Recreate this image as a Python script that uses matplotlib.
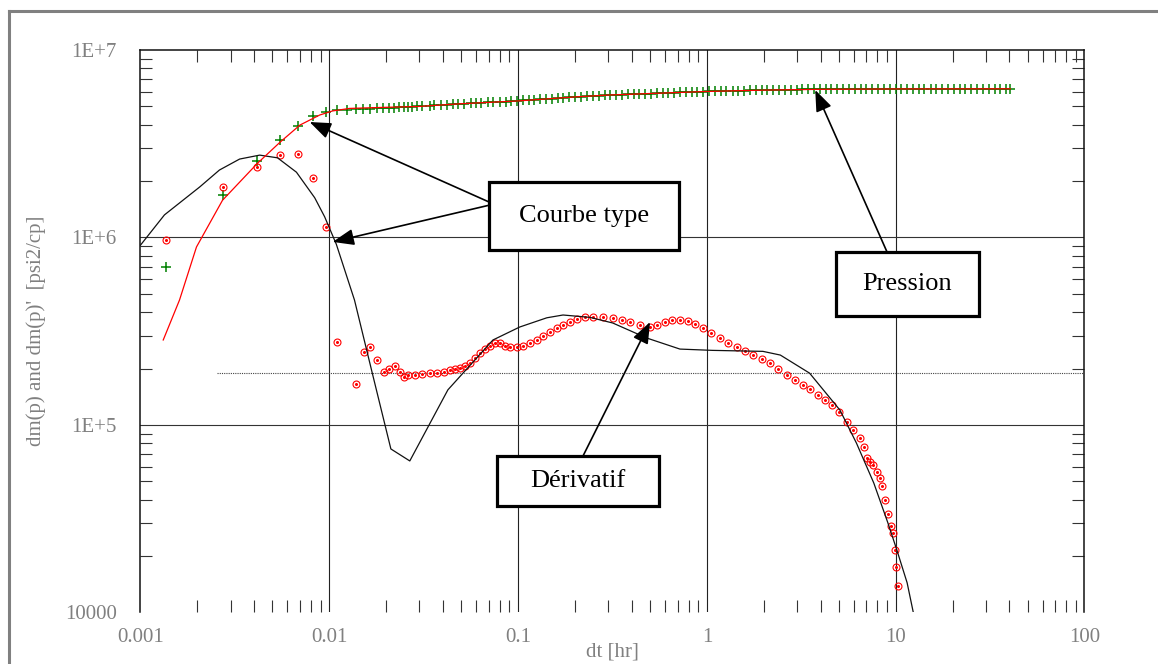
import numpy as np
import matplotlib
matplotlib.use("Agg")
import matplotlib.pyplot as plt
from matplotlib.lines import Line2D
from matplotlib.patches import Rectangle
from matplotlib.ticker import FixedLocator, LogLocator, NullFormatter

plt.rcParams['font.family'] = ['Liberation Serif', 'DejaVu Serif']

# --- measured pressure function dm(p) [psi2/cp] (green +)
t_press = [
    0.00137, 0.00275, 0.00412, 0.0055, 0.00687, 0.00825, 0.00962, 0.011, 0.0124, 0.0138,
    0.0151, 0.0165, 0.0179, 0.0193, 0.0206, 0.022, 0.0234, 0.0248, 0.0261, 0.0275,
    0.029, 0.031, 0.034, 0.036, 0.039, 0.042, 0.045, 0.048, 0.052, 0.056,
    0.060, 0.064, 0.069, 0.074, 0.080, 0.086, 0.092, 0.099, 0.106, 0.114,
    0.122, 0.131, 0.141, 0.151, 0.162, 0.174, 0.187, 0.201, 0.216, 0.232,
    0.249, 0.267, 0.287, 0.308, 0.331, 0.355, 0.381, 0.409, 0.439, 0.471,
    0.506, 0.543, 0.583, 0.626, 0.672, 0.721, 0.774, 0.831, 0.892, 0.958,
    1.03, 1.10, 1.19, 1.27, 1.37, 1.47, 1.58, 1.69, 1.82, 1.95,
    2.09, 2.25, 2.41, 2.59, 2.78, 2.99, 3.21, 3.44, 3.70, 3.97,
    4.26, 4.57, 4.91, 5.27, 5.66, 6.07, 6.52, 7.00, 7.52, 8.07,
    8.66, 9.30, 9.98, 10.7, 11.5, 12.4, 13.3, 14.2, 15.3, 16.4,
    17.6, 18.9, 20.3, 21.8, 23.4, 25.1, 27.0, 28.9, 31.1, 33.4,
    35.8, 38.4, 40.5]
dm_press_m = [
    0.70, 1.69, 2.56, 3.31, 3.94, 4.45, 4.67, 4.78, 4.80, 4.83,
    4.85, 4.87, 4.89, 4.90, 4.92, 4.93, 4.95, 4.96, 4.97, 4.98,
    5.00, 5.02, 5.05, 5.07, 5.09, 5.11, 5.13, 5.15, 5.17, 5.19,
    5.21, 5.23, 5.25, 5.27, 5.29, 5.31, 5.33, 5.35, 5.38, 5.40,
    5.43, 5.46, 5.48, 5.51, 5.54, 5.57, 5.59, 5.62, 5.64, 5.66,
    5.69, 5.71, 5.73, 5.75, 5.77, 5.78, 5.80, 5.81, 5.83, 5.84,
    5.86, 5.87, 5.89, 5.90, 5.92, 5.94, 5.95, 5.97, 5.98, 6.00,
    6.01, 6.03, 6.04, 6.05, 6.06, 6.07, 6.08, 6.09, 6.10, 6.11,
    6.12, 6.13, 6.13, 6.14, 6.15, 6.15, 6.16, 6.16, 6.17, 6.17,
    6.18, 6.18, 6.18, 6.19, 6.19, 6.19, 6.19, 6.20, 6.20, 6.20,
    6.20, 6.20, 6.21, 6.20, 6.21, 6.20, 6.21, 6.21, 6.20, 6.21,
    6.21, 6.20, 6.21, 6.21, 6.20, 6.21, 6.21, 6.20, 6.21, 6.21,
    6.20, 6.21, 6.21]

# --- measured derivative dm(p)' (red circles)
t_deriv = [
    0.00137, 0.00275, 0.00412, 0.0055, 0.00687, 0.00825, 0.00962, 0.0110, 0.0138, 0.0152,
    0.0165, 0.0180, 0.0194, 0.0207, 0.0222, 0.0236, 0.0248, 0.0261, 0.0284, 0.0309,
    0.0340, 0.0371, 0.0405, 0.0435, 0.0462, 0.0491, 0.0522, 0.0555, 0.0590, 0.0627,
    0.0667, 0.0708, 0.0753, 0.080, 0.0851, 0.0905, 0.0986, 0.106, 0.1155, 0.126,
    0.135, 0.1475, 0.1606, 0.173, 0.188, 0.205, 0.226, 0.249, 0.282, 0.318,
    0.355, 0.392, 0.443, 0.500, 0.545, 0.600, 0.653, 0.721, 0.795, 0.865,
    0.954, 1.05, 1.18, 1.30, 1.45, 1.60, 1.76, 1.96, 2.16, 2.39,
    2.66, 2.94, 3.24, 3.52, 3.89, 4.24, 4.61, 5.02, 5.54, 5.96,
    6.49, 6.82, 7.07, 7.30, 7.60, 8.00, 8.28, 8.50, 8.81, 9.14,
    9.48, 9.70, 9.95, 10.1, 10.3]
dm_deriv = [
    9.7e5, 1.86e6, 2.38e6, 2.75e6, 2.79e6, 2.08e6, 1.14e6, 2.77e5, 1.66e5, 2.45e5,
    2.61e5, 2.22e5, 1.92e5, 1.99e5, 2.07e5, 1.92e5, 1.80e5, 1.85e5, 1.85e5, 1.87e5,
    1.89e5, 1.89e5, 1.92e5, 1.96e5, 1.99e5, 2.01e5, 2.07e5, 2.14e5, 2.28e5, 2.42e5,
    2.54e5, 2.64e5, 2.74e5, 2.74e5, 2.64e5, 2.61e5, 2.61e5, 2.64e5, 2.74e5, 2.84e5,
    2.98e5, 3.13e5, 3.29e5, 3.41e5, 3.54e5, 3.67e5, 3.77e5, 3.77e5, 3.77e5, 3.72e5,
    3.63e5, 3.54e5, 3.41e5, 3.33e5, 3.41e5, 3.54e5, 3.63e5, 3.63e5, 3.59e5, 3.46e5,
    3.29e5, 3.10e5, 2.91e5, 2.74e5, 2.61e5, 2.48e5, 2.36e5, 2.25e5, 2.14e5, 1.99e5,
    1.85e5, 1.74e5, 1.63e5, 1.56e5, 1.45e5, 1.36e5, 1.28e5, 1.17e5, 1.04e5, 9.4e4,
    8.5e4, 7.6e4, 6.7e4, 6.35e4, 6.1e4, 5.6e4, 5.2e4, 4.7e4, 3.98e4, 3.35e4,
    2.89e4, 2.65e4, 2.15e4, 1.75e4, 1.38e4]

# --- type curve, pressure (red line)
t_tc_press = [0.00132, 0.00161, 0.00198, 0.00272, 0.00417, 0.0055, 0.0070, 0.0089, 0.0104,
              0.0128, 0.019, 0.03, 0.05, 0.1, 0.2, 0.3, 0.5, 1.0, 2.0, 4.0, 10.0, 40.5]
tc_press_m = [0.284, 0.464, 0.89, 1.58, 2.49, 3.23, 3.98, 4.50, 4.73,
              4.88, 4.94, 5.00, 5.17, 5.35, 5.62, 5.75, 5.86, 6.01, 6.11, 6.17, 6.20, 6.21]

# --- type curve, derivative (black line)
t_tc_deriv = [0.001, 0.00134, 0.00206, 0.00262, 0.00335, 0.00428, 0.00532, 0.0067, 0.00837,
              0.00945, 0.0109, 0.0136, 0.0169, 0.0212, 0.0267, 0.0425, 0.0736, 0.102, 0.142,
              0.173, 0.24, 0.317, 0.48, 0.72, 1.07, 1.6, 1.98, 2.45, 3.5, 5.07, 6.2, 7.66,
              9.1, 10.15, 11.5, 12.4, 13.0]
tc_deriv = [9.1e5, 1.32e6, 1.86e6, 2.29e6, 2.62e6, 2.75e6, 2.66e6, 2.23e6, 1.63e6,
            1.29e6, 9.2e5, 4.64e5, 1.89e5, 7.45e4, 6.43e4, 1.54e5, 2.84e5, 3.33e5, 3.73e5,
            3.86e5, 3.75e5, 3.5e5, 2.91e5, 2.54e5, 2.5e5, 2.48e5, 2.47e5, 2.36e5, 1.89e5,
            1.2e5, 8.0e4, 4.9e4, 3.0e4, 2.15e4, 1.44e4, 1.0e4, 8.0e3]

# radial flow stabilisation (dotted)
stab_level = 1.89e5
stab_start = 0.00253

x_ticks = [0.001, 0.01, 0.1, 1, 10, 100]
x_labels = ['0.001', '0.01', '0.1', '1', '10', '100']
y_ticks = [1e4, 1e5, 1e6, 1e7]
y_labels = ['10000', '1E+5', '1E+6', '1E+7']

gray = '#808080'

fig = plt.figure(figsize=(11.58, 6.64), dpi=100)
ax = fig.add_axes([0.1213, 0.0776, 0.8152, 0.8471])
ax.set_xscale('log')
ax.set_yscale('log')
ax.set_xlim(1e-3, 100)
ax.set_ylim(1e4, 1e7)

# grid (drawn by hand so the bottom edge stays open)
for xv in x_ticks[1:-1]:
    ax.axvline(xv, color='#222222', lw=0.8, zorder=1)
for yv in y_ticks[1:-1]:
    ax.axhline(yv, color='#333333', lw=0.8, zorder=1)

ax.plot([stab_start, 100], [stab_level, stab_level], color='#444444', lw=0.8,
        ls=(0, (1, 1)), zorder=2)

ax.plot(t_press, np.array(dm_press_m) * 1e6, ls='none', marker='+', ms=6.5, mew=1.1,
        color='#008000', zorder=3)
ax.plot(t_deriv, dm_deriv, ls='none', marker='o', ms=5.0, mfc='none', mec='#ff0000',
        mew=0.8, zorder=3)
ax.plot(t_deriv, dm_deriv, ls='none', marker='o', ms=1.2, color='#ff0000', zorder=3)

ax.plot(t_tc_deriv, tc_deriv, color='#111111', lw=0.9, zorder=4)
ax.plot(t_tc_press, np.array(tc_press_m) * 1e6, color='#ff0000', lw=0.9, zorder=4)

# ticks and labels
ax.xaxis.set_major_locator(FixedLocator(x_ticks))
ax.set_xticklabels(x_labels)
ax.yaxis.set_major_locator(FixedLocator(y_ticks))
ax.set_yticklabels(y_labels)
ax.xaxis.set_minor_locator(LogLocator(base=10, subs=np.arange(2, 10)))
ax.yaxis.set_minor_locator(LogLocator(base=10, subs=np.arange(2, 10)))
ax.xaxis.set_minor_formatter(NullFormatter())
ax.yaxis.set_minor_formatter(NullFormatter())
ax.tick_params(which='minor', direction='in', length=8.5, width=0.8, color='#333333',
               top=True, right=True, bottom=True, left=True)
ax.tick_params(which='major', direction='in', length=0, width=0,
               top=True, right=True, bottom=True, left=True, labelsize=15,
               labelcolor=gray)
ax.tick_params(axis='x', which='major', pad=11)
ax.tick_params(axis='y', which='major', pad=17)

for side in ['top', 'left', 'right']:
    ax.spines[side].set_linewidth(1.1)
    ax.spines[side].set_color('#111111')
ax.spines['bottom'].set_visible(False)

ax.set_xlabel('dt [hr]', fontsize=15, color=gray, labelpad=-3)
ax.set_ylabel("dm(p) and dm(p)'  [psi2/cp]", fontsize=15, color=gray, labelpad=13.5)

# annotation boxes (axes fraction)
def label_box(text, x0, y0, x1, y1):
    ax.add_patch(Rectangle((x0, y0), x1 - x0, y1 - y0, transform=ax.transAxes,
                           facecolor='white', edgecolor='black', lw=2.3, zorder=6,
                           clip_on=False))
    ax.text((x0 + x1) / 2, (y0 + y1) / 2, text, transform=ax.transAxes, ha='center',
            va='center', fontsize=19, color='black', zorder=7)

def arrow(tip, start):
    ax.annotate('', xy=tip, xycoords='data', xytext=start, textcoords='axes fraction',
                arrowprops=dict(arrowstyle='-|>,head_length=1.3,head_width=0.5',
                                mutation_scale=10, color='black', lw=1.2,
                                shrinkA=0, shrinkB=0), zorder=5)

arrow((0.00787, 4.13e6), (0.3692, 0.7298))
arrow((0.01042, 9.47e5), (0.3692, 0.7240))
arrow((3.75, 6.12e6), (0.7908, 0.6411))
arrow((0.5, 3.54e5), (0.4688, 0.2782))

label_box('Courbe type', 0.3692, 0.6444, 0.5704, 0.7653)
label_box('Pression', 0.7368, 0.5271, 0.8883, 0.6411)
label_box('Dérivatif', 0.3776, 0.1893, 0.5493, 0.2782)

# outer grey frame of the original figure
fx = 8.5 / 1158
fy = 1 - 10.5 / 664
fig.add_artist(Line2D([fx, fx], [0, fy], transform=fig.transFigure, color=gray, lw=2.2))
fig.add_artist(Line2D([fx, 1], [fy, fy], transform=fig.transFigure, color=gray, lw=2.2))

fig.savefig('out.png', dpi=100)
